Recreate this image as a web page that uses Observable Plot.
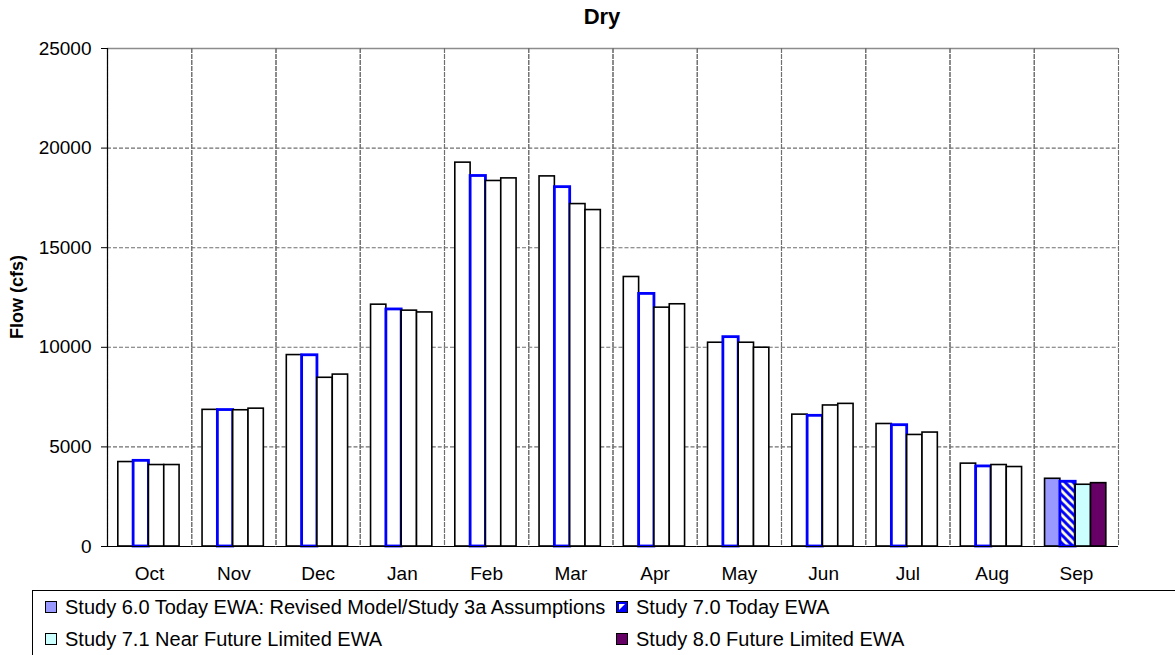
<!DOCTYPE html>
<html><head><meta charset="utf-8">
<script src="https://cdn.jsdelivr.net/npm/d3@7"></script>
<script src="https://cdn.jsdelivr.net/npm/@observablehq/plot@0.6"></script>
<style>
body{margin:0;width:1175px;height:655px;overflow:hidden;position:relative;background:#fff;font-family:"Liberation Sans",Arial,sans-serif;color:#000;}
#title{position:absolute;top:4px;left:602px;transform:translateX(-50%);font-weight:bold;font-size:22px;}
#ylabel{position:absolute;left:17px;top:297px;transform:translate(-50%,-50%) rotate(-90deg);font-weight:bold;font-size:18px;white-space:nowrap;}
#chart{position:absolute;top:0;left:0;}
#legend{position:absolute;left:32px;top:590px;width:1200px;height:100px;border-top:1px solid #000;border-left:1px solid #000;font-size:20px;}
.item{position:absolute;display:flex;align-items:center;white-space:nowrap;height:24px;}
.sw{width:10px;height:10px;border:1px solid #000;margin-right:8px;flex:none;}
</style></head><body>
<div id="chart"></div>
<div id="title">Dry</div>
<div id="ylabel">Flow (cfs)</div>
<div id="legend"></div>
<script>
const months = ["Oct","Nov","Dec","Jan","Feb","Mar","Apr","May","Jun","Jul","Aug","Sep"];
const seriesNames = [
  "Study 6.0 Today EWA: Revised Model/Study 3a Assumptions",
  "Study 7.0 Today EWA",
  "Study 7.1 Near Future Limited EWA",
  "Study 8.0 Future Limited EWA"
];
const study60 = [4240, 6860, 9610, 12140, 19270, 18580, 13530, 10230, 6620, 6150, 4160, 3400];
const study70 = [4300, 6850, 9600, 11900, 18600, 18040, 12680, 10510, 6560, 6090, 4020, 3250];
const study71 = [4090, 6840, 8470, 11840, 18350, 17190, 11990, 10230, 7080, 5600, 4090, 3100];
const study80 = [4090, 6920, 8630, 11750, 18480, 16890, 12160, 9980, 7160, 5720, 3990, 3180];
const yTicks = [0, 5000, 10000, 15000, 20000, 25000];

// styles
const seriesFill = ["#9999FF", "url(#hatch)", "#CCFFFF", "#660066"];
const seriesStroke = ["#000000", "#0000FF", "#000000", "#000000"];
const seriesStrokeWidth = [1.6, 2.8, 1.6, 1.6];
const filledMonth = "Sep";

const rows = [];
[study60, study70, study71, study80].forEach((vals, s) =>
  vals.forEach((v, i) => rows.push({month: months[i], series: seriesNames[s], s, value: v})));

const gridStyle = {stroke: "#6f6f6f", strokeOpacity: 1, strokeDasharray: "4,2", strokeWidth: 1.1};

const chart = Plot.plot({
  width: 1175, height: 590,
  marginLeft: 107, marginRight: 57, marginTop: 48, marginBottom: 44,
  style: {fontFamily: "'Liberation Sans', Arial, sans-serif", fontSize: "19px", color: "#000", background: "transparent", overflow: "visible"},
  fx: {domain: months, paddingInner: 0, paddingOuter: 0, label: null, round: false},
  x: {domain: seriesNames, paddingInner: 0, paddingOuter: 0.75, align: 0.47, round: false, axis: null},
  y: {domain: [0, 25000], label: null},
  color: {type: "identity"},
  marks: [
    Plot.gridY({ticks: yTicks.slice(1, -1), ...gridStyle}),
    Plot.ruleY([25000], {stroke: "#8c8c8c", strokeWidth: 1.3}),
    Plot.frame({anchor: "left", ...gridStyle}),
    Plot.frame({anchor: "right", ...gridStyle}),
    Plot.barY(rows, {
      fx: "month", x: "series", y: "value",
      fill: d => d.month === filledMonth ? seriesFill[d.s] : "#ffffff",
      stroke: d => seriesStroke[d.s],
      strokeWidth: d => seriesStrokeWidth[d.s]
    }),
    Plot.ruleY([0], {stroke: "#000", strokeWidth: 1.2}),
    Plot.frame({anchor: "left", stroke: "#000", strokeWidth: 1.2, facetAnchor: "left"}),
    Plot.axisY({ticks: yTicks, tickFormat: d => String(d), tickSize: 6, tickPadding: 10, label: null}),
    Plot.axisFx({anchor: "bottom", tickSize: 0, tickPadding: 20, label: null})
  ]
});
document.getElementById("chart").appendChild(chart);
const svg = chart.tagName.toLowerCase() === "svg" ? chart : chart.querySelector("svg");
svg.insertAdjacentHTML("afterbegin",
  '<defs><pattern id="hatch" patternUnits="userSpaceOnUse" width="8" height="8">' +
  '<rect width="8" height="8" fill="#FFFFCC"/>' +
  '<path d="M-2,-2 L10,10 M-2,6 L2,10 M6,-2 L10,2" stroke="#0000FF" stroke-width="3"/></pattern></defs>');

// legend
const legend = document.getElementById("legend");
const legendPos = [[12, 4], [583, 4], [12, 36], [583, 36]];
seriesNames.forEach((name, s) => {
  const it = document.createElement("div");
  it.className = "item";
  it.style.left = legendPos[s][0] + "px";
  it.style.top = legendPos[s][1] + "px";
  let sw;
  if (s === 1) {
    sw = '<svg class="sw" style="border:none;width:12px;height:12px;margin-right:8px" viewBox="0 0 12 12"><rect x="0.5" y="0.5" width="11" height="11" fill="#0000FF" stroke="#000"/><polygon points="3,3 9,3 3,9" fill="#FFFFFF"/></svg>';
  } else {
    sw = '<div class="sw" style="background:' + seriesFill[s] + '"></div>';
  }
  it.innerHTML = sw + '<span>' + name + '</span>';
  legend.appendChild(it);
});
</script>
</body></html>
